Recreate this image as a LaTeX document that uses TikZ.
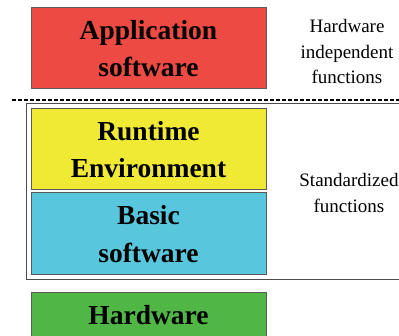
\documentclass[tikz,border=0pt]{standalone}
\usepackage{fontspec}
\setmainfont{Liberation Serif}
\definecolor{appred}{RGB}{236,74,67}
\definecolor{rteyellow}{RGB}{240,234,52}
\definecolor{bswblue}{RGB}{88,198,220}
\definecolor{hwgreen}{RGB}{80,182,70}
\tikzset{
layer/.style={draw=black!65, line width=1pt, minimum width=235pt, minimum height=81pt,
  inner sep=0pt, align=center, font=\fontsize{27.5}{37.5}\selectfont\bfseries},
note/.style={align=center, inner sep=0pt, font=\fontsize{19}{25.5}\selectfont}
}
\begin{document}
\begin{tikzpicture}[x=1pt,y=1pt]
  \useasboundingbox (0,0) rectangle (399,-336);
  \clip (0,0) rectangle (399,-336);
\node[layer, fill=appred] (app) at (148.5,-48.5) {Application\\software};
\node[layer, fill=rteyellow] (rte) at (148.5,-149.5) {Runtime\\Environment};
\node[layer, fill=bswblue, minimum height=82pt] (bsw) at (148.5,-234) {Basic\\software};
\node[layer, fill=hwgreen] (hw) at (148.5,-333.5) {Hardware\\ };
\node[note] (indep) at (347,-52) {Hardware\\independent\\functions};
\node[note] (std) at (349,-193) {Standardized\\functions};
\coordinate (split) at (12,-100);
\draw[line width=1.2pt, dash pattern=on 4pt off 2pt] (split) -- ++(400,0);
\draw[black!70, line width=1pt] (26,-104) rectangle (430,-280);
\end{tikzpicture}
\end{document}
